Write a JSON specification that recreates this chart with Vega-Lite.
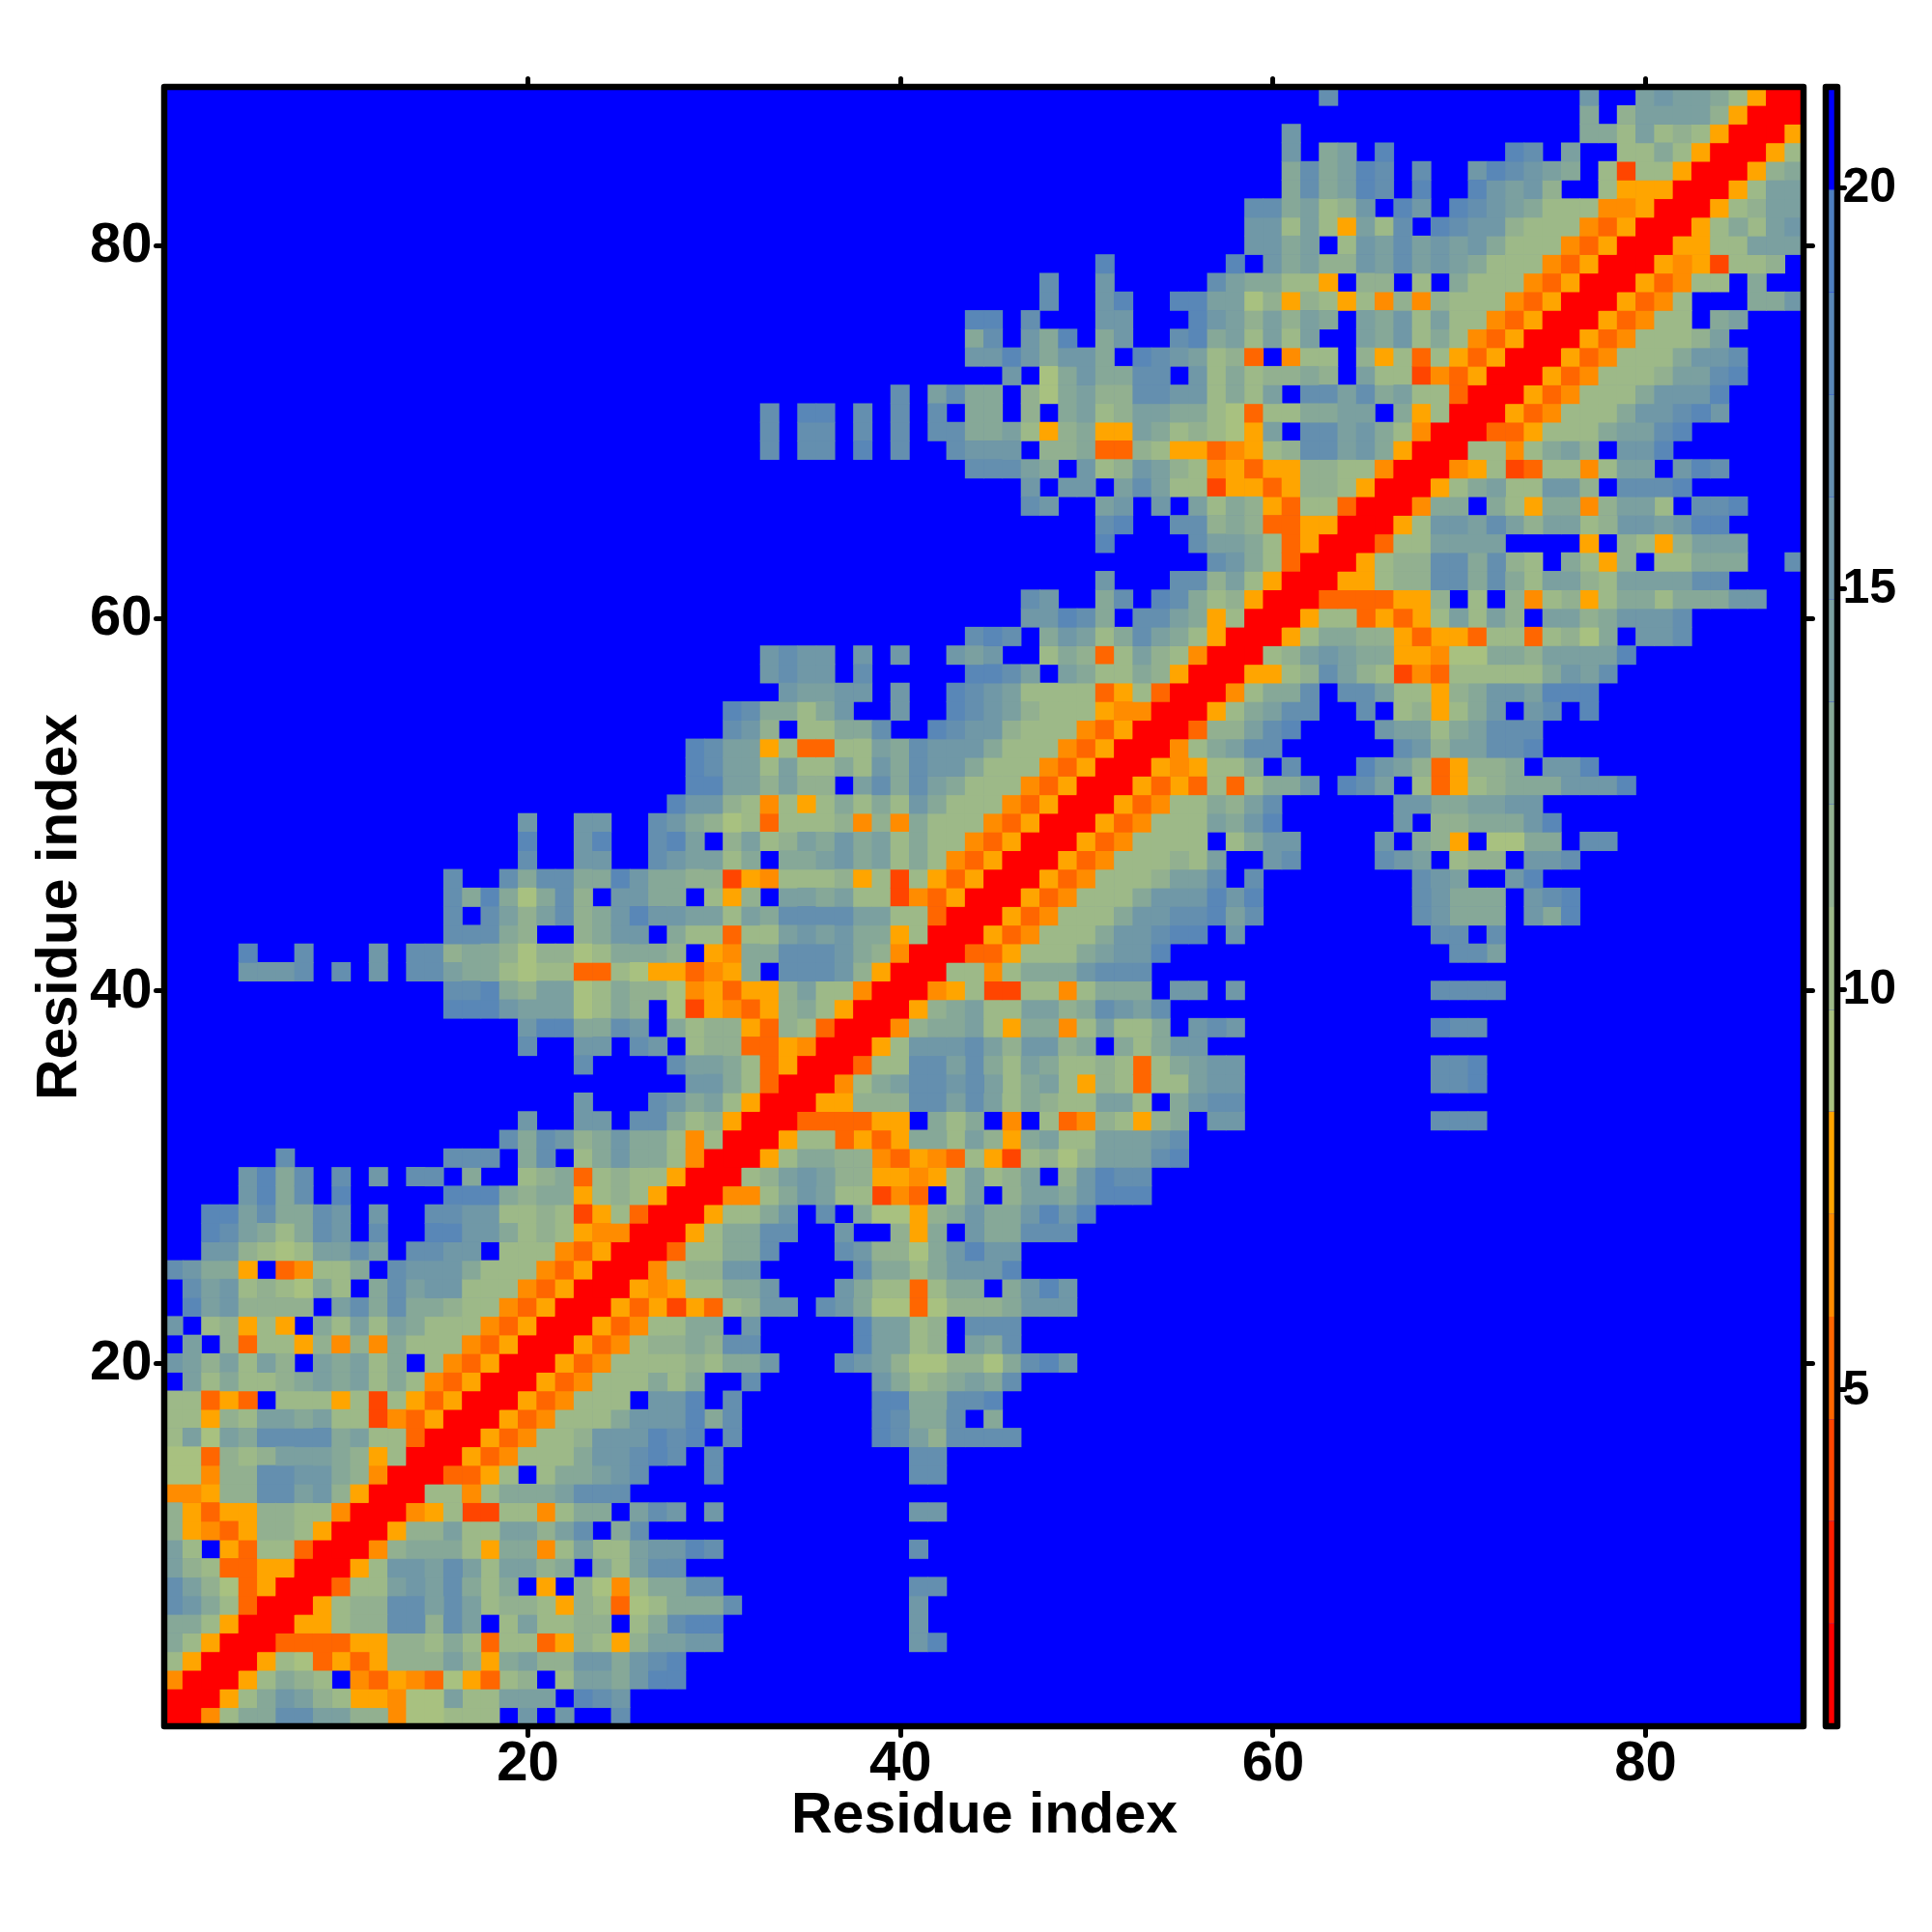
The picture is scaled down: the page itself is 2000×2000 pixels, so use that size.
{"$schema":"https://vega.github.io/schema/vega-lite/v6.json","background":"white","padding":{"left":31,"top":78,"right":0,"bottom":0},"bounds":"flush","spacing":23,
"config":{"view":{"stroke":null,"fill":"#0000ff"},"font":"Liberation Sans"},
"datasets":{"cells":[
{"i":1,"v":1,"j":[1,2]},{"i":1,"v":7,"j":[3,13]},{"i":1,"v":10,"j":[4,16,17,18]},{"i":1,"v":13,"j":[5,6]},{"i":1,"v":17,"j":[7,8,25]},{"i":1,"v":14,"j":[9,10]},{"i":1,"v":12,"j":[11,12]},{"i":1,"v":9,"j":[14,15]},{"i":1,"v":16,"j":[20,22]},
{"i":2,"v":1,"j":[2,3]},{"i":2,"v":8,"j":[4,11,12]},{"i":2,"v":7,"j":[13]},{"i":2,"v":10,"j":[5,10,17,18]},{"i":2,"v":13,"j":[6]},{"i":2,"v":16,"j":[7,25]},{"i":2,"v":14,"j":[8,16,19,20,21]},{"i":2,"v":12,"j":[9]},{"i":2,"v":9,"j":[14,15]},{"i":2,"v":18,"j":[23]},{"i":2,"v":17,"j":[24]},
{"i":3,"v":1,"j":[3,4]},{"i":3,"v":8,"j":[5,13,17]},{"i":3,"v":10,"j":[6,9,19,22]},{"i":3,"v":13,"j":[7,25]},{"i":3,"v":12,"j":[8,20]},{"i":3,"v":7,"j":[11,14]},{"i":3,"v":5,"j":[12,15,18]},{"i":3,"v":9,"j":[16]},{"i":3,"v":14,"j":[23,24]},{"i":3,"v":16,"j":[26]},{"i":3,"v":18,"j":[27,28]},
{"i":4,"v":1,"j":[4,5]},{"i":4,"v":8,"j":[6,10,12,18]},{"i":4,"v":10,"j":[7]},{"i":4,"v":9,"j":[8]},{"i":4,"v":5,"j":[9,11]},{"i":4,"v":12,"j":[13,14,15,17,21,22]},{"i":4,"v":14,"j":[16,20]},{"i":4,"v":13,"j":[19,25]},{"i":4,"v":16,"j":[23,24,26]},{"i":4,"v":17,"j":[27]},{"i":4,"v":18,"j":[28]},
{"i":5,"v":1,"j":[5,6]},{"i":5,"v":5,"j":[7,8,9,10,18,21]},{"i":5,"v":8,"j":[11,12,22,25]},{"i":5,"v":12,"j":[13,14,23,26]},{"i":5,"v":10,"j":[15,17,19,20,24]},{"i":5,"v":13,"j":[16]},{"i":5,"v":14,"j":[27,28]},{"i":5,"v":16,"j":[29,30,41]},{"i":5,"v":18,"j":[42]},
{"i":6,"v":1,"j":[6,7]},{"i":6,"v":8,"j":[8,9]},{"i":6,"v":10,"j":[10,19,21,22,26]},{"i":6,"v":12,"j":[11,12,15,23,24]},{"i":6,"v":17,"j":[13,14,16,28]},{"i":6,"v":14,"j":[17,20]},{"i":6,"v":13,"j":[27]},{"i":6,"v":18,"j":[29,30]},{"i":6,"v":16,"j":[41]},
{"i":7,"v":1,"j":[7,8]},{"i":7,"v":8,"j":[9,22]},{"i":7,"v":10,"j":[10,18,21,24,27]},{"i":7,"v":12,"j":[11,12,19,20,23]},{"i":7,"v":17,"j":[13,14,16,31]},{"i":7,"v":14,"j":[15,17]},{"i":7,"v":5,"j":[25]},{"i":7,"v":9,"j":[26]},{"i":7,"v":13,"j":[28,29,30]},{"i":7,"v":16,"j":[41]},
{"i":8,"v":1,"j":[8,9]},{"i":8,"v":5,"j":[10]},{"i":8,"v":8,"j":[21]},{"i":8,"v":7,"j":[25]},{"i":8,"v":10,"j":[11,12,18,26]},{"i":8,"v":14,"j":[13,15]},{"i":8,"v":16,"j":[14]},{"i":8,"v":17,"j":[16,29,30,41,42]},{"i":8,"v":13,"j":[17,19,27,28]},{"i":8,"v":12,"j":[23]},{"i":8,"v":9,"j":[24]},
{"i":9,"v":1,"j":[9,10]},{"i":9,"v":8,"j":[11]},{"i":9,"v":10,"j":[12,18,25]},{"i":9,"v":16,"j":[13,14]},{"i":9,"v":14,"j":[15,17,19,20,26]},{"i":9,"v":17,"j":[16,27,28]},{"i":9,"v":12,"j":[21]},{"i":9,"v":13,"j":[22,24]},
{"i":10,"v":1,"j":[10,11]},{"i":10,"v":7,"j":[12,21]},{"i":10,"v":8,"j":[18]},{"i":10,"v":12,"j":[13]},{"i":10,"v":13,"j":[14,15,16,19,20]},{"i":10,"v":10,"j":[17,22,24,25]},{"i":10,"v":14,"j":[23,26]},{"i":10,"v":16,"j":[27,28]},{"i":10,"v":18,"j":[29]},{"i":10,"v":17,"j":[30,41]},
{"i":11,"v":1,"j":[11,12]},{"i":11,"v":8,"j":[13]},{"i":11,"v":12,"j":[14,15,21]},{"i":11,"v":14,"j":[16,19,20,22]},{"i":11,"v":10,"j":[17,18]},{"i":11,"v":17,"j":[23,26]},{"i":11,"v":13,"j":[25]},
{"i":12,"v":1,"j":[12,13]},{"i":12,"v":7,"j":[14,21]},{"i":12,"v":8,"j":[15]},{"i":12,"v":4,"j":[17,18]},{"i":12,"v":10,"j":[16,19,20,22]},{"i":12,"v":13,"j":[23,24]},{"i":12,"v":14,"j":[26]},{"i":12,"v":17,"j":[27]},{"i":12,"v":16,"j":[28,30,41,42]},
{"i":13,"v":1,"j":[13,14]},{"i":13,"v":10,"j":[15,16,18]},{"i":13,"v":7,"j":[17]},{"i":13,"v":13,"j":[19,20,21]},{"i":13,"v":14,"j":[22]},{"i":13,"v":17,"j":[23,24,25]},
{"i":14,"v":1,"j":[14,15]},{"i":14,"v":5,"j":[16,17]},{"i":14,"v":8,"j":[18]},{"i":14,"v":10,"j":[19,21]},{"i":14,"v":13,"j":[22,23]},{"i":14,"v":14,"j":[24]},{"i":14,"v":16,"j":[25]},{"i":14,"v":17,"j":[26,30,41,42]},
{"i":15,"v":1,"j":[15,16]},{"i":15,"v":8,"j":[17]},{"i":15,"v":5,"j":[18]},{"i":15,"v":7,"j":[19]},{"i":15,"v":10,"j":[20,21,22]},{"i":15,"v":13,"j":[23]},{"i":15,"v":16,"j":[24,25]},{"i":15,"v":17,"j":[26,28,30,41,42]},{"i":15,"v":18,"j":[27]},
{"i":16,"v":1,"j":[16,17]},{"i":16,"v":8,"j":[18]},{"i":16,"v":5,"j":[19]},{"i":16,"v":7,"j":[20]},{"i":16,"v":10,"j":[21,22]},{"i":16,"v":12,"j":[23,42]},{"i":16,"v":16,"j":[24,25,26]},{"i":16,"v":18,"j":[27,29,39]},{"i":16,"v":17,"j":[28,31,40,43,44,45,46]},{"i":16,"v":14,"j":[41]},
{"i":17,"v":1,"j":[17,18]},{"i":17,"v":8,"j":[19]},{"i":17,"v":5,"j":[20]},{"i":17,"v":7,"j":[21]},{"i":17,"v":10,"j":[22,23,24]},{"i":17,"v":13,"j":[25,30,41,42,45]},{"i":17,"v":16,"j":[26,27,28]},{"i":17,"v":18,"j":[29,39]},{"i":17,"v":17,"j":[31,40,43]},
{"i":18,"v":1,"j":[18,19]},{"i":18,"v":8,"j":[20]},{"i":18,"v":5,"j":[21]},{"i":18,"v":7,"j":[22]},{"i":18,"v":10,"j":[23,24,25]},{"i":18,"v":16,"j":[27,28]},{"i":18,"v":18,"j":[29,39,40,45]},{"i":18,"v":17,"j":[31,43,44]},{"i":18,"v":13,"j":[41,42]},
{"i":19,"v":1,"j":[19,20]},{"i":19,"v":8,"j":[21]},{"i":19,"v":5,"j":[22]},{"i":19,"v":7,"j":[23]},{"i":19,"v":10,"j":[24,25,26,28,41]},{"i":19,"v":13,"j":[27,29,40,43,45]},{"i":19,"v":17,"j":[32,46]},{"i":19,"v":16,"j":[39]},{"i":19,"v":12,"j":[42]},{"i":19,"v":14,"j":[44]},
{"i":20,"v":1,"j":[20,21]},{"i":20,"v":8,"j":[22]},{"i":20,"v":5,"j":[23]},{"i":20,"v":7,"j":[24]},{"i":20,"v":10,"j":[25,26,27,28,30]},{"i":20,"v":12,"j":[29,40,43,44]},{"i":20,"v":13,"j":[31,32,46]},{"i":20,"v":16,"j":[33,38,49]},{"i":20,"v":17,"j":[37,47]},{"i":20,"v":14,"j":[39]},{"i":20,"v":9,"j":[41,42,45]},{"i":20,"v":18,"j":[48]},
{"i":21,"v":1,"j":[21,22]},{"i":21,"v":8,"j":[23]},{"i":21,"v":5,"j":[24]},{"i":21,"v":7,"j":[25]},{"i":21,"v":10,"j":[26,41]},{"i":21,"v":12,"j":[27,28,30,42]},{"i":21,"v":13,"j":[29,45]},{"i":21,"v":17,"j":[31,32,46]},{"i":21,"v":18,"j":[38]},{"i":21,"v":14,"j":[39,40,44]},
{"i":22,"v":1,"j":[22,23]},{"i":22,"v":8,"j":[24]},{"i":22,"v":5,"j":[25]},{"i":22,"v":7,"j":[26]},{"i":22,"v":10,"j":[27,28,41]},{"i":22,"v":13,"j":[29,30]},{"i":22,"v":16,"j":[32]},{"i":22,"v":18,"j":[38]},{"i":22,"v":14,"j":[39,40]},{"i":22,"v":12,"j":[42]},{"i":22,"v":17,"j":[44,45,46]},
{"i":23,"v":1,"j":[23,24]},{"i":23,"v":8,"j":[25,27,29]},{"i":23,"v":5,"j":[26,30,41]},{"i":23,"v":4,"j":[28]},{"i":23,"v":10,"j":[31]},{"i":23,"v":12,"j":[32,43,44,45]},{"i":23,"v":16,"j":[33,34,37,47,48,49]},{"i":23,"v":17,"j":[36]},{"i":23,"v":13,"j":[38,46]},{"i":23,"v":9,"j":[39,40,42]},
{"i":24,"v":1,"j":[24,25]},{"i":24,"v":8,"j":[26,28]},{"i":24,"v":7,"j":[27]},{"i":24,"v":5,"j":[41]},{"i":24,"v":10,"j":[29,30,39,40,42]},{"i":24,"v":13,"j":[31,32,38,43,44,46]},{"i":24,"v":16,"j":[33,37,47,49]},{"i":24,"v":18,"j":[48]},
{"i":25,"v":1,"j":[25,26]},{"i":25,"v":7,"j":[27]},{"i":25,"v":10,"j":[28,41]},{"i":25,"v":12,"j":[29,30]},{"i":25,"v":16,"j":[31,32,43,44,45]},{"i":25,"v":17,"j":[38]},{"i":25,"v":13,"j":[39,40,42]},{"i":25,"v":18,"j":[46]},
{"i":26,"v":1,"j":[26,27]},{"i":26,"v":5,"j":[28]},{"i":26,"v":10,"j":[29,30]},{"i":26,"v":13,"j":[31,32,42]},{"i":26,"v":17,"j":[33,37]},{"i":26,"v":16,"j":[38,43,45,46]},{"i":26,"v":12,"j":[39,40]},{"i":26,"v":9,"j":[41]},{"i":26,"v":18,"j":[44]},
{"i":27,"v":1,"j":[27,28]},{"i":27,"v":8,"j":[29,41]},{"i":27,"v":10,"j":[30]},{"i":27,"v":13,"j":[31,32,42,45,46]},{"i":27,"v":17,"j":[33,34,47,48,49]},{"i":27,"v":16,"j":[37,44]},{"i":27,"v":12,"j":[40]},
{"i":28,"v":1,"j":[28,29]},{"i":28,"v":8,"j":[30,41]},{"i":28,"v":10,"j":[31,32]},{"i":28,"v":13,"j":[33,38,43,45,46]},{"i":28,"v":16,"j":[34,44,47,49]},{"i":28,"v":17,"j":[36]},{"i":28,"v":9,"j":[39,40]},{"i":28,"v":12,"j":[42]},{"i":28,"v":18,"j":[48,50]},
{"i":29,"v":1,"j":[29,30]},{"i":29,"v":7,"j":[31,32,40]},{"i":29,"v":4,"j":[39]},{"i":29,"v":5,"j":[41]},{"i":29,"v":10,"j":[33,37,38,43]},{"i":29,"v":13,"j":[34,49]},{"i":29,"v":16,"j":[35,50]},{"i":29,"v":14,"j":[36,44,47,48]},{"i":29,"v":12,"j":[46]},{"i":29,"v":18,"j":[51,52,53]},
{"i":30,"v":1,"j":[30,31]},{"i":30,"v":8,"j":[39,40,42]},{"i":30,"v":7,"j":[41]},{"i":30,"v":10,"j":[32,43,45]},{"i":30,"v":12,"j":[33,37,38,46,49]},{"i":30,"v":14,"j":[34,36,44,47]},{"i":30,"v":16,"j":[35,50]},{"i":30,"v":18,"j":[51]},{"i":30,"v":17,"j":[52,53]},
{"i":31,"v":1,"j":[31,32]},{"i":31,"v":8,"j":[33,41,45]},{"i":31,"v":7,"j":[39,42]},{"i":31,"v":5,"j":[40,43]},{"i":31,"v":4,"j":[46]},{"i":31,"v":10,"j":[34,44,47]},{"i":31,"v":13,"j":[35,36]},{"i":31,"v":12,"j":[37,38,48,50]},{"i":31,"v":9,"j":[49]},{"i":31,"v":14,"j":[51,52,53]},{"i":31,"v":17,"j":[54]},{"i":31,"v":18,"j":[55]},
{"i":32,"v":1,"j":[32,33]},{"i":32,"v":8,"j":[34,38,40,46]},{"i":32,"v":5,"j":[37,39]},{"i":32,"v":10,"j":[35,36,43,49,50]},{"i":32,"v":13,"j":[41,42,47]},{"i":32,"v":14,"j":[44,48,51,52,53]},{"i":32,"v":12,"j":[45]},{"i":32,"v":16,"j":[54]},{"i":32,"v":17,"j":[55]},
{"i":33,"v":1,"j":[33,34]},{"i":33,"v":5,"j":[35,36,37,38,49]},{"i":33,"v":8,"j":[39,40,53]},{"i":33,"v":7,"j":[46,50]},{"i":33,"v":13,"j":[42,44,55]},{"i":33,"v":10,"j":[43,48,52]},{"i":33,"v":12,"j":[51,54]},{"i":33,"v":16,"j":[57,58]},{"i":33,"v":17,"j":[69,70,71]},
{"i":34,"v":1,"j":[34,35]},{"i":34,"v":8,"j":[36,37]},{"i":34,"v":12,"j":[38,39,40,48]},{"i":34,"v":17,"j":[41,42,44,57,58]},{"i":34,"v":14,"j":[43,45,51,52]},{"i":34,"v":10,"j":[46,49,50,53]},{"i":34,"v":13,"j":[47,55]},{"i":34,"v":16,"j":[56]},
{"i":35,"v":1,"j":[35,36]},{"i":35,"v":7,"j":[37]},{"i":35,"v":8,"j":[50]},{"i":35,"v":5,"j":[53]},{"i":35,"v":10,"j":[38,46,49,52,54,55]},{"i":35,"v":13,"j":[39,47]},{"i":35,"v":14,"j":[40,45,48,56]},{"i":35,"v":17,"j":[41,42,44,69,70]},{"i":35,"v":16,"j":[43,57,58]},{"i":35,"v":12,"j":[51]},{"i":35,"v":18,"j":[71]},
{"i":36,"v":1,"j":[36,37]},{"i":36,"v":5,"j":[38,53]},{"i":36,"v":10,"j":[39,40,46,49,50,52,54]},{"i":36,"v":17,"j":[41,42,44,69,70]},{"i":36,"v":14,"j":[43,47,56]},{"i":36,"v":13,"j":[45,48,55]},{"i":36,"v":12,"j":[51]},{"i":36,"v":16,"j":[57,58]},{"i":36,"v":18,"j":[71]},
{"i":37,"v":1,"j":[37,38]},{"i":37,"v":8,"j":[39]},{"i":37,"v":10,"j":[40,53]},{"i":37,"v":16,"j":[41,42,43,47,48,55,56]},{"i":37,"v":17,"j":[44]},{"i":37,"v":14,"j":[45]},{"i":37,"v":12,"j":[46,49]},{"i":37,"v":13,"j":[50,52,54]},
{"i":38,"v":1,"j":[38,39]},{"i":38,"v":7,"j":[40,49]},{"i":38,"v":8,"j":[46]},{"i":38,"v":12,"j":[41]},{"i":38,"v":13,"j":[42,43,47,48,54]},{"i":38,"v":14,"j":[44,51]},{"i":38,"v":10,"j":[45,50,52,53]},{"i":38,"v":16,"j":[56,58]},{"i":38,"v":17,"j":[57,70,71]},{"i":38,"v":18,"j":[69]},
{"i":39,"v":1,"j":[39,40]},{"i":39,"v":8,"j":[41]},{"i":39,"v":12,"j":[42,49]},{"i":39,"v":13,"j":[43,50]},{"i":39,"v":14,"j":[44,47,48,53]},{"i":39,"v":10,"j":[45,46]},{"i":39,"v":17,"j":[51,54]},{"i":39,"v":16,"j":[52]},
{"i":40,"v":1,"j":[40,41]},{"i":40,"v":7,"j":[42,49]},{"i":40,"v":8,"j":[43]},{"i":40,"v":4,"j":[45,46]},{"i":40,"v":10,"j":[44,47,48,50]},{"i":40,"v":13,"j":[51,52,53]},{"i":40,"v":16,"j":[55,56,58]},{"i":40,"v":17,"j":[69,70,71,72]},
{"i":41,"v":1,"j":[41,42]},{"i":41,"v":7,"j":[45]},{"i":41,"v":10,"j":[43,44,46]},{"i":41,"v":13,"j":[47,48,49]},{"i":41,"v":16,"j":[50]},{"i":41,"v":17,"j":[51,52,53]},
{"i":42,"v":1,"j":[42,43]},{"i":42,"v":5,"j":[44,45]},{"i":42,"v":8,"j":[46]},{"i":42,"v":10,"j":[47,48,49]},{"i":42,"v":13,"j":[50]},{"i":42,"v":14,"j":[51,72]},{"i":42,"v":16,"j":[52,53]},{"i":42,"v":18,"j":[54]},{"i":42,"v":17,"j":[70,71]},
{"i":43,"v":1,"j":[43,44]},{"i":43,"v":8,"j":[45]},{"i":43,"v":5,"j":[46]},{"i":43,"v":7,"j":[47]},{"i":43,"v":10,"j":[48,49,50]},{"i":43,"v":13,"j":[51]},{"i":43,"v":16,"j":[52,53,58]},{"i":43,"v":17,"j":[54,69,70,72]},{"i":43,"v":18,"j":[55,56]},
{"i":44,"v":1,"j":[44,45]},{"i":44,"v":8,"j":[46]},{"i":44,"v":5,"j":[47]},{"i":44,"v":7,"j":[48]},{"i":44,"v":10,"j":[49,50,51]},{"i":44,"v":13,"j":[52,70,71,72,75]},{"i":44,"v":16,"j":[53,54,69,74]},{"i":44,"v":17,"j":[55,56,59,68]},{"i":44,"v":18,"j":[57,76]},{"i":44,"v":14,"j":[58]},
{"i":45,"v":1,"j":[45,46]},{"i":45,"v":8,"j":[47]},{"i":45,"v":5,"j":[48]},{"i":45,"v":7,"j":[49]},{"i":45,"v":10,"j":[50,51,52]},{"i":45,"v":13,"j":[53,70,71,72]},{"i":45,"v":16,"j":[54,55,56,58,69,74]},{"i":45,"v":18,"j":[57,59,76]},{"i":45,"v":17,"j":[68,75]},
{"i":46,"v":1,"j":[46,47]},{"i":46,"v":8,"j":[48]},{"i":46,"v":5,"j":[49]},{"i":46,"v":7,"j":[50]},{"i":46,"v":10,"j":[51,52,53]},{"i":46,"v":12,"j":[54]},{"i":46,"v":14,"j":[55,56,70]},{"i":46,"v":17,"j":[57,59,68]},{"i":46,"v":16,"j":[69,73]},{"i":46,"v":18,"j":[74]},
{"i":47,"v":1,"j":[47,48]},{"i":47,"v":8,"j":[49]},{"i":47,"v":5,"j":[50]},{"i":47,"v":7,"j":[51]},{"i":47,"v":10,"j":[52,53,54,56,70]},{"i":47,"v":12,"j":[55,71,72]},{"i":47,"v":14,"j":[57,68]},{"i":47,"v":16,"j":[60,67,74,75]},{"i":47,"v":17,"j":[61,66,76]},
{"i":48,"v":1,"j":[48,49]},{"i":48,"v":8,"j":[50,70]},{"i":48,"v":5,"j":[51]},{"i":48,"v":7,"j":[52]},{"i":48,"v":10,"j":[53,54,55,56,58]},{"i":48,"v":13,"j":[59,68,74,75]},{"i":48,"v":16,"j":[60,61,66]},{"i":48,"v":12,"j":[69]},{"i":48,"v":9,"j":[72,73]},{"i":48,"v":17,"j":[77,78]},
{"i":49,"v":1,"j":[49,50]},{"i":49,"v":8,"j":[51]},{"i":49,"v":5,"j":[52]},{"i":49,"v":7,"j":[53]},{"i":49,"v":10,"j":[54,55,56]},{"i":49,"v":14,"j":[57]},{"i":49,"v":13,"j":[58,71,72,73]},{"i":49,"v":16,"j":[59,67,74]},{"i":49,"v":18,"j":[60,75]},{"i":49,"v":12,"j":[69,70]},
{"i":50,"v":1,"j":[50,51]},{"i":50,"v":8,"j":[52]},{"i":50,"v":5,"j":[53]},{"i":50,"v":7,"j":[54]},{"i":50,"v":10,"j":[55,56]},{"i":50,"v":13,"j":[57,69,70]},{"i":50,"v":12,"j":[58]},{"i":50,"v":14,"j":[59,71,72]},{"i":50,"v":17,"j":[60]},{"i":50,"v":16,"j":[67,68,73,74]},
{"i":51,"v":1,"j":[51,52]},{"i":51,"v":8,"j":[53,55,70]},{"i":51,"v":5,"j":[54,56,58,69]},{"i":51,"v":10,"j":[57,59,68,71]},{"i":51,"v":13,"j":[60,61,73,74,75]},{"i":51,"v":16,"j":[62,76,77,78]},{"i":51,"v":18,"j":[64,79]},{"i":51,"v":17,"j":[65]},{"i":51,"v":14,"j":[66]},{"i":51,"v":12,"j":[72]},
{"i":52,"v":1,"j":[52,53]},{"i":52,"v":8,"j":[54,56,70]},{"i":52,"v":7,"j":[55]},{"i":52,"v":5,"j":[69]},{"i":52,"v":10,"j":[57,58]},{"i":52,"v":13,"j":[59,73]},{"i":52,"v":17,"j":[61]},{"i":52,"v":18,"j":[65,77]},{"i":52,"v":16,"j":[66,75,76]},{"i":52,"v":14,"j":[67]},{"i":52,"v":12,"j":[68,71,72]},
{"i":53,"v":1,"j":[53,54]},{"i":53,"v":7,"j":[55]},{"i":53,"v":10,"j":[56]},{"i":53,"v":13,"j":[57]},{"i":53,"v":14,"j":[58,70,71]},{"i":53,"v":17,"j":[59,60,67,72,73]},{"i":53,"v":16,"j":[68]},{"i":53,"v":12,"j":[69]},{"i":53,"v":18,"j":[74]},
{"i":54,"v":1,"j":[54,55]},{"i":54,"v":5,"j":[56]},{"i":54,"v":12,"j":[57,58]},{"i":54,"v":14,"j":[59,67,68,71]},{"i":54,"v":17,"j":[60,72,73,74]},{"i":54,"v":18,"j":[61]},{"i":54,"v":16,"j":[66]},{"i":54,"v":10,"j":[69]},{"i":54,"v":13,"j":[70]},
{"i":55,"v":1,"j":[55,56]},{"i":55,"v":8,"j":[57,69]},{"i":55,"v":10,"j":[58,67,70]},{"i":55,"v":13,"j":[59,71]},{"i":55,"v":14,"j":[60]},{"i":55,"v":17,"j":[61,62,65,75]},{"i":55,"v":12,"j":[68]},{"i":55,"v":16,"j":[72,74]},{"i":55,"v":18,"j":[77]},
{"i":56,"v":1,"j":[56,57]},{"i":56,"v":7,"j":[58]},{"i":56,"v":8,"j":[69]},{"i":56,"v":10,"j":[59,67,68]},{"i":56,"v":13,"j":[60,61,71]},{"i":56,"v":17,"j":[62,64,65]},{"i":56,"v":14,"j":[66,74]},{"i":56,"v":12,"j":[70]},{"i":56,"v":16,"j":[72,73]},{"i":56,"v":18,"j":[75,76,77]},
{"i":57,"v":1,"j":[57,58]},{"i":57,"v":8,"j":[59,60]},{"i":57,"v":4,"j":[67]},{"i":57,"v":7,"j":[68]},{"i":57,"v":5,"j":[69]},{"i":57,"v":10,"j":[61,66,70,71,72,73,74]},{"i":57,"v":12,"j":[62,65]},{"i":57,"v":17,"j":[63,78]},{"i":57,"v":14,"j":[64,77]},{"i":57,"v":13,"j":[75]},{"i":57,"v":16,"j":[76]},
{"i":58,"v":1,"j":[58,59]},{"i":58,"v":8,"j":[67,68]},{"i":58,"v":7,"j":[69]},{"i":58,"v":10,"j":[60]},{"i":58,"v":12,"j":[61,74]},{"i":58,"v":14,"j":[62,64,75,76,77,78]},{"i":58,"v":16,"j":[63]},{"i":58,"v":13,"j":[65,66,72,73]},{"i":58,"v":9,"j":[70,71]},{"i":58,"v":18,"j":[79]},
{"i":59,"v":1,"j":[59,60]},{"i":59,"v":8,"j":[61,67,69,70]},{"i":59,"v":5,"j":[68,71,74]},{"i":59,"v":10,"j":[62,72,73,75]},{"i":59,"v":13,"j":[63,64,78]},{"i":59,"v":12,"j":[65,66,76]},{"i":59,"v":9,"j":[77]},{"i":59,"v":16,"j":[80,81]},{"i":59,"v":17,"j":[82]},
{"i":60,"v":1,"j":[60,61]},{"i":60,"v":8,"j":[62,66,68]},{"i":60,"v":5,"j":[65,67]},{"i":60,"v":10,"j":[63,64,69,71]},{"i":60,"v":14,"j":[70,72,75,76]},{"i":60,"v":12,"j":[73,77]},{"i":60,"v":13,"j":[78]},{"i":60,"v":16,"j":[79,80,81]},{"i":60,"v":17,"j":[82]},
{"i":61,"v":1,"j":[61,62]},{"i":61,"v":5,"j":[63,64,65,66]},{"i":61,"v":8,"j":[67,68,77]},{"i":61,"v":7,"j":[74]},{"i":61,"v":12,"j":[69,73,76]},{"i":61,"v":10,"j":[71,75,78,81]},{"i":61,"v":13,"j":[79,80,82,83,84]},{"i":61,"v":16,"j":[85,86]},
{"i":62,"v":1,"j":[62,63]},{"i":62,"v":8,"j":[64,65]},{"i":62,"v":10,"j":[66,74,78]},{"i":62,"v":12,"j":[67,68,77]},{"i":62,"v":17,"j":[69,70,72,83,84]},{"i":62,"v":13,"j":[71,73]},{"i":62,"v":14,"j":[75,76,79,80,81,82]},
{"i":63,"v":1,"j":[63,64]},{"i":63,"v":8,"j":[65,78]},{"i":63,"v":10,"j":[66,74,77,81,82]},{"i":63,"v":12,"j":[67,68,73,79]},{"i":63,"v":17,"j":[69,70,72,88]},{"i":63,"v":13,"j":[71,76,83,84,85]},
{"i":64,"v":1,"j":[64,65]},{"i":64,"v":5,"j":[66]},{"i":64,"v":8,"j":[77,81]},{"i":64,"v":10,"j":[67,68,80]},{"i":64,"v":14,"j":[69,70,71,72,83,84,85]},{"i":64,"v":12,"j":[79,82]},
{"i":65,"v":1,"j":[65,66]},{"i":65,"v":8,"j":[67]},{"i":65,"v":10,"j":[68,77]},{"i":65,"v":16,"j":[69,70,79,80,82]},{"i":65,"v":14,"j":[71,73,75,76,81]},{"i":65,"v":17,"j":[72]},{"i":65,"v":12,"j":[74,78]},{"i":65,"v":18,"j":[83,84]},
{"i":66,"v":1,"j":[66,67]},{"i":66,"v":7,"j":[68,77]},{"i":66,"v":8,"j":[74]},{"i":66,"v":13,"j":[69,70,72,75,76]},{"i":66,"v":10,"j":[73,81]},{"i":66,"v":12,"j":[78]},{"i":66,"v":14,"j":[79,80]},{"i":66,"v":17,"j":[83,84]},{"i":66,"v":18,"j":[85]},
{"i":67,"v":1,"j":[67,68]},{"i":67,"v":8,"j":[69]},{"i":67,"v":10,"j":[70,73,74]},{"i":67,"v":13,"j":[71]},{"i":67,"v":14,"j":[72]},{"i":67,"v":16,"j":[75,76]},{"i":67,"v":12,"j":[77]},{"i":67,"v":17,"j":[79,80,81]},{"i":67,"v":18,"j":[82]},
{"i":68,"v":1,"j":[68,69]},{"i":68,"v":7,"j":[70,77]},{"i":68,"v":8,"j":[71]},{"i":68,"v":4,"j":[73]},{"i":68,"v":5,"j":[74]},{"i":68,"v":10,"j":[72,75,76,78]},{"i":68,"v":14,"j":[79,80]},{"i":68,"v":16,"j":[82]},{"i":68,"v":18,"j":[83]},{"i":68,"v":17,"j":[84]},
{"i":69,"v":1,"j":[69,70]},{"i":69,"v":7,"j":[73]},{"i":69,"v":10,"j":[71,72,74]},{"i":69,"v":13,"j":[75]},{"i":69,"v":14,"j":[76]},{"i":69,"v":12,"j":[77]},{"i":69,"v":16,"j":[79,80]},{"i":69,"v":18,"j":[81]},
{"i":70,"v":1,"j":[70,71]},{"i":70,"v":5,"j":[72,73]},{"i":70,"v":8,"j":[74]},{"i":70,"v":10,"j":[75,76,77]},{"i":70,"v":13,"j":[78]},{"i":70,"v":14,"j":[79,80]},{"i":70,"v":17,"j":[81]},{"i":70,"v":18,"j":[82]},
{"i":71,"v":1,"j":[71,72]},{"i":71,"v":8,"j":[73]},{"i":71,"v":5,"j":[74]},{"i":71,"v":7,"j":[75]},{"i":71,"v":10,"j":[76,77,78]},{"i":71,"v":13,"j":[79]},{"i":71,"v":16,"j":[80,81,84]},{"i":71,"v":17,"j":[82]},{"i":71,"v":18,"j":[83]},
{"i":72,"v":1,"j":[72,73]},{"i":72,"v":8,"j":[74]},{"i":72,"v":5,"j":[75]},{"i":72,"v":7,"j":[76]},{"i":72,"v":10,"j":[77,78,79]},{"i":72,"v":13,"j":[80]},{"i":72,"v":16,"j":[81,82,83]},{"i":72,"v":18,"j":[84]},
{"i":73,"v":1,"j":[73,74]},{"i":73,"v":8,"j":[75]},{"i":73,"v":5,"j":[76]},{"i":73,"v":7,"j":[77]},{"i":73,"v":10,"j":[78,79,80]},{"i":73,"v":12,"j":[81]},{"i":73,"v":14,"j":[82,83]},{"i":73,"v":17,"j":[84]},{"i":73,"v":18,"j":[85]},
{"i":74,"v":1,"j":[74,75]},{"i":74,"v":8,"j":[76]},{"i":74,"v":5,"j":[77]},{"i":74,"v":7,"j":[78]},{"i":74,"v":10,"j":[79,80,81]},{"i":74,"v":13,"j":[82]},{"i":74,"v":16,"j":[83,84]},{"i":74,"v":17,"j":[85]},
{"i":75,"v":1,"j":[75,76]},{"i":75,"v":8,"j":[77]},{"i":75,"v":5,"j":[78]},{"i":75,"v":7,"j":[79]},{"i":75,"v":10,"j":[80,81,82]},{"i":75,"v":12,"j":[83]},{"i":75,"v":14,"j":[84]},
{"i":76,"v":1,"j":[76,77]},{"i":76,"v":8,"j":[78]},{"i":76,"v":5,"j":[79]},{"i":76,"v":7,"j":[80]},{"i":76,"v":10,"j":[81,82]},{"i":76,"v":13,"j":[84]},{"i":76,"v":14,"j":[85]},
{"i":77,"v":1,"j":[77,78]},{"i":77,"v":8,"j":[79]},{"i":77,"v":5,"j":[80]},{"i":77,"v":7,"j":[81]},{"i":77,"v":10,"j":[82]},{"i":77,"v":13,"j":[86,87]},{"i":77,"v":16,"j":[88]},
{"i":78,"v":1,"j":[78,79]},{"i":78,"v":8,"j":[80]},{"i":78,"v":5,"j":[81]},{"i":78,"v":7,"j":[82]},{"i":78,"v":10,"j":[83,84]},{"i":78,"v":13,"j":[86]},
{"i":79,"v":1,"j":[79,80]},{"i":79,"v":8,"j":[81,83]},{"i":79,"v":7,"j":[82]},{"i":79,"v":4,"j":[84]},{"i":79,"v":10,"j":[85,86]},{"i":79,"v":12,"j":[87]},
{"i":80,"v":1,"j":[80,81]},{"i":80,"v":8,"j":[82,83]},{"i":80,"v":10,"j":[84,85]},{"i":80,"v":14,"j":[86,87,88]},
{"i":81,"v":1,"j":[81,82]},{"i":81,"v":8,"j":[83]},{"i":81,"v":10,"j":[84,86]},{"i":81,"v":13,"j":[85]},{"i":81,"v":14,"j":[87]},{"i":81,"v":16,"j":[88]},
{"i":82,"v":1,"j":[82,83]},{"i":82,"v":8,"j":[84]},{"i":82,"v":10,"j":[85]},{"i":82,"v":12,"j":[86]},{"i":82,"v":14,"j":[87,88]},
{"i":83,"v":1,"j":[83,84]},{"i":83,"v":8,"j":[85]},{"i":83,"v":10,"j":[86]},{"i":83,"v":14,"j":[87,88]},
{"i":84,"v":1,"j":[84,85]},{"i":84,"v":8,"j":[86]},{"i":84,"v":12,"j":[87]},{"i":84,"v":13,"j":[88]},
{"i":85,"v":1,"j":[85,86]},{"i":85,"v":8,"j":[87]},{"i":85,"v":10,"j":[88]},
{"i":86,"v":1,"j":[86,87]},{"i":86,"v":8,"j":[88]},
{"i":87,"v":1,"j":[87,88]},
{"i":88,"v":1,"j":[88]}
]},
"hconcat":[
{"width":1697,"height":1697,"data":{"name":"cells"},"transform":[{"flatten":["j"]}],
"layer":[
{"mark":{"type":"rect","width":20,"height":20},
"encoding":{
"x":{"field":"j","type":"quantitative","scale":{"domain":[0.5,88.5],"nice":false,"zero":false},"axis":{"values":[20,40,60,80],"title":"Residue index","grid":false,"domain":false,"tickColor":"black","tickWidth":5,"tickSize":9,"tickCap":"round","labelFont":"Liberation Sans","labelFontWeight":"bold","labelFontSize":58,"labelColor":"black","labelPadding":0,"titleFont":"Liberation Sans","titleFontWeight":"bold","titleFontSize":59,"titleColor":"black","titlePadding":-5,"labelFlush":false}},
"y":{"field":"i","type":"quantitative","scale":{"domain":[0.5,88.5],"nice":false,"zero":false},"axis":{"values":[20,40,60,80],"title":"Residue index","grid":false,"domain":false,"tickColor":"black","tickWidth":5,"tickSize":9,"tickCap":"round","labelFont":"Liberation Sans","labelFontWeight":"bold","labelFontSize":58,"labelColor":"black","labelPadding":4,"titleFont":"Liberation Sans","titleFontWeight":"bold","titleFontSize":59,"titleColor":"black","titlePadding":2,"labelFlush":false}},
"color":{"field":"v","type":"quantitative","legend":null,"scale":{"type":"threshold","domain":[2.08,3.36,4.63,5.91,7.19,8.47,9.74,11.02,12.3,13.58,14.86,16.13,17.41,18.69,19.97],"range":["#ff0000","#ff1e00","#ff4500","#ff6600","#ff8c00","#ffa500","#a8c180","#9db988","#92b090","#86a898","#7ba0a0","#7098a7","#648faf","#5987b7","#4e7fbf","#0000ff"]}}}},
{"mark":{"type":"rect","width":20,"height":20},
"encoding":{
"x":{"field":"i","type":"quantitative","axis":null},
"y":{"field":"j","type":"quantitative","axis":null},
"color":{"field":"v","type":"quantitative","legend":null,"scale":{"type":"threshold","domain":[2.08,3.36,4.63,5.91,7.19,8.47,9.74,11.02,12.3,13.58,14.86,16.13,17.41,18.69,19.97],"range":["#ff0000","#ff1e00","#ff4500","#ff6600","#ff8c00","#ffa500","#a8c180","#9db988","#92b090","#86a898","#7ba0a0","#7098a7","#648faf","#5987b7","#4e7fbf","#0000ff"]}}}},
{"data":{"values":[{"a":0.5,"b":88.5}]},"transform":[],"mark":{"type":"rect","fillOpacity":0,"stroke":"black","strokeWidth":6.5,"strokeJoin":"round"},
"encoding":{
"x":{"field":"a","type":"quantitative","axis":{"orient":"top","values":[20,40,60,80],"labels":false,"title":null,"grid":false,"domain":false,"tickColor":"black","tickWidth":5,"tickSize":9,"tickCap":"round"}},"x2":{"field":"b"},
"y":{"field":"a","type":"quantitative","axis":{"orient":"right","values":[20,40,60,80],"labels":false,"title":null,"grid":false,"domain":false,"tickColor":"black","tickWidth":5,"tickSize":9,"tickCap":"round"}},"y2":{"field":"b"}}}
],
"resolve":{"axis":{"x":"independent","y":"independent"}}},
{"width":12,"height":1697,
"layer":[
{"data":{"values":[{"lo":0.8,"hi":2.08,"v":1.4},{"lo":2.08,"hi":3.36,"v":2.7},{"lo":3.36,"hi":4.63,"v":4},{"lo":4.63,"hi":5.91,"v":5.3},{"lo":5.91,"hi":7.19,"v":6.6},{"lo":7.19,"hi":8.47,"v":7.8},{"lo":8.47,"hi":9.74,"v":9.1},{"lo":9.74,"hi":11.02,"v":10.4},{"lo":11.02,"hi":12.3,"v":11.7},{"lo":12.3,"hi":13.58,"v":13},{"lo":13.58,"hi":14.86,"v":14.2},{"lo":14.86,"hi":16.13,"v":15.5},{"lo":16.13,"hi":17.41,"v":16.8},{"lo":17.41,"hi":18.69,"v":18},{"lo":18.69,"hi":19.97,"v":19.3},{"lo":19.97,"hi":21.25,"v":20.6}]},
"mark":{"type":"rect"},
"encoding":{
"y":{"field":"lo","type":"quantitative","scale":{"domain":[0.8,21.25],"nice":false,"zero":false},"axis":{"orient":"right","values":[5,10,15,20],"format":"d","title":null,"grid":false,"domain":false,"tickColor":"black","tickWidth":5,"tickSize":7,"tickCap":"round","labelFont":"Liberation Sans","labelFontWeight":"bold","labelFontSize":50,"labelColor":"black","labelPadding":-2}},
"y2":{"field":"hi"},
"color":{"field":"v","type":"quantitative","legend":null,"scale":{"type":"threshold","domain":[2.08,3.36,4.63,5.91,7.19,8.47,9.74,11.02,12.3,13.58,14.86,16.13,17.41,18.69,19.97],"range":["#ff0000","#ff1e00","#ff4500","#ff6600","#ff8c00","#ffa500","#a8c180","#9db988","#92b090","#86a898","#7ba0a0","#7098a7","#648faf","#5987b7","#4e7fbf","#0000ff"]}}}},
{"data":{"values":[{"lo":0.8,"hi":21.25}]},
"mark":{"type":"rect","fillOpacity":0,"stroke":"black","strokeWidth":6.5,"strokeJoin":"round"},
"encoding":{"y":{"field":"lo","type":"quantitative"},"y2":{"field":"hi"}}}
]}
]}
